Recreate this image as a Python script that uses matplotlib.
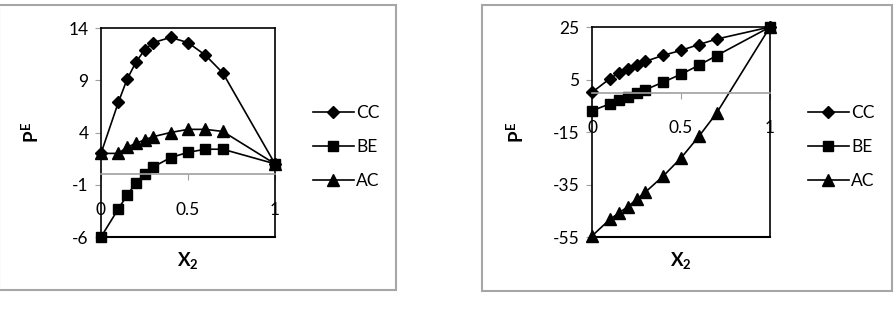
import matplotlib
matplotlib.use('Agg')
import matplotlib.pyplot as plt
from matplotlib.patches import Rectangle

plt.rcParams['font.family'] = ['Lato', 'DejaVu Sans']
plt.rcParams['axes.unicode_minus'] = False
plt.rcParams['mathtext.fontset'] = 'custom'
plt.rcParams['mathtext.rm'] = 'Lato:bold'
plt.rcParams['mathtext.it'] = 'Lato:bold'
plt.rcParams['mathtext.bf'] = 'Lato:bold'

x2 = [0, 0.1, 0.15, 0.2, 0.25, 0.3, 0.4, 0.5, 0.6, 0.7, 1.0]

# left panel
cc_left = [2.0, 6.9, 9.1, 10.7, 11.9, 12.6, 13.1, 12.6, 11.4, 9.7, 1.0]
be_left = [-6.0, -3.3, -2.0, -0.85, 0.05, 0.7, 1.6, 2.1, 2.4, 2.4, 1.0]
ac_left = [2.0, 2.0, 2.6, 2.95, 3.3, 3.6, 4.0, 4.3, 4.3, 4.1, 1.0]
yticks_left = [-6, -1, 4, 9, 14]

# right panel
cc_right = [0.1, 5.3, 7.5, 9.1, 10.6, 11.9, 14.2, 16.1, 18.3, 20.4, 25.0]
be_right = [-6.9, -4.3, -2.9, -1.5, -0.3, 1.1, 4.0, 7.0, 10.4, 14.1, 25.0]
ac_right = [-54.6, -48.3, -45.9, -43.5, -40.7, -37.9, -31.8, -24.9, -16.7, -7.8, 25.0]
yticks_right = [-55, -35, -15, 5, 25]

xticks = [0, 0.5, 1]
names = ['CC', 'BE', 'AC']
markers = [('D', 6), ('s', 7.5), ('^', 8)]

W, H = 894, 314
fig = plt.figure(figsize=(W / 100, H / 100), dpi=100)


def box(x0, y0, x1, y1):
    fig.patches.append(Rectangle((x0 / W, 1 - y1 / H), (x1 - x0) / W, (y1 - y0) / H,
                                 transform=fig.transFigure, fill=False,
                                 edgecolor='#a6a6a6', lw=1.5))


def panel(rect, series, yticks, ylab_x, leg_x):
    x0, y0, x1, y1 = rect
    ax = fig.add_axes([x0 / W, 1 - y1 / H, (x1 - x0) / W, (y1 - y0) / H])
    for ys, nm, (m, ms) in zip(series, names, markers):
        ax.plot(x2, ys, color='black', lw=1.2, marker=m, ms=ms, label=nm, clip_on=False)
    ax.set_xlim(0, 1)
    ax.set_ylim(yticks[0], yticks[-1])
    ax.set_yticks(yticks)
    ax.set_xticks(xticks)
    ax.set_xticklabels(['0', '0.5', '1'])
    for s in ['top', 'right', 'left']:
        ax.spines[s].set_color('black')
        ax.spines[s].set_linewidth(1.2)
    ax.spines['bottom'].set_position(('data', 0))
    ax.spines['bottom'].set_color('#a0a0a0')
    ax.spines['bottom'].set_linewidth(1.2)
    ax.plot([0, 1], [0, 0], transform=ax.transAxes, color='black', lw=1.5, clip_on=False)
    ax.tick_params(axis='x', direction='out', length=4, color='#a0a0a0', pad=16, labelsize=12.5)
    ax.tick_params(axis='y', direction='out', length=4, color='#a0a0a0', pad=5, labelsize=12.5)
    ax.set_ylabel(r'$P^E$', fontsize=13.5, rotation=90)
    ax.yaxis.set_label_coords(ylab_x, 0.5)
    ax.set_xlabel(r'$X_2$', fontsize=13.5)
    ax.xaxis.set_label_coords(0.5, -0.06)
    ax.legend(loc='center left', bbox_to_anchor=(leg_x / W, 1 - 147 / H),
              bbox_transform=fig.transFigure, frameon=False, fontsize=12.5,
              handlelength=2.4, handletextpad=0.1, labelspacing=1.05)
    return ax


box(-1, 5, 396, 290)
box(482, 5, 892, 291)

panel((101, 28, 275, 237), [cc_left, be_left, ac_left], yticks_left, -0.34, 297)
panel((592, 27, 770, 237), [cc_right, be_right, ac_right], yticks_right, -0.365, 792)

fig.savefig('out.png', dpi=100)
